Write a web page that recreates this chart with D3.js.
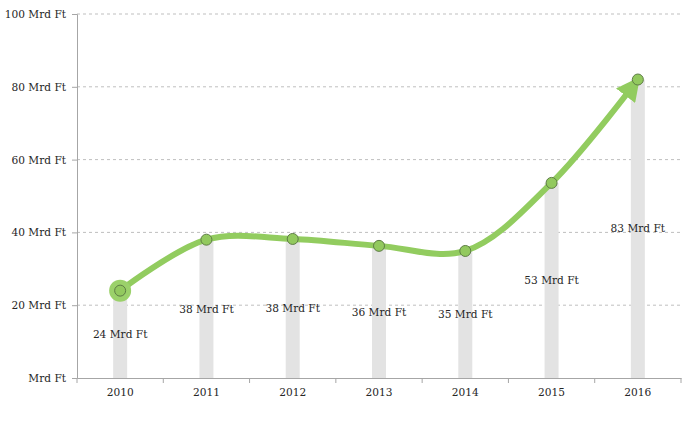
<!DOCTYPE html>
<html><head><meta charset="utf-8">
<script src="https://cdn.jsdelivr.net/npm/d3@7"></script>
<style>body{margin:0;background:#fff;}</style>
</head><body>
<svg id="c" width="691" height="436"></svg>
<script>
const years = ["2010","2011","2012","2013","2014","2015","2016"];
const values = [24, 38, 38.2, 36.3, 34.9, 53.6, 82];
const valueLabels = ["24 Mrd Ft","38 Mrd Ft","38 Mrd Ft","36 Mrd Ft","35 Mrd Ft","53 Mrd Ft","83 Mrd Ft"];
const yTicks = [0, 20, 40, 60, 80, 100];
const yTickLabels = ["Mrd Ft","20 Mrd Ft","40 Mrd Ft","60 Mrd Ft","80 Mrd Ft","100 Mrd Ft"];

const FONT = "DejaVu Serif";
const FS = 10.6;
const svg = d3.select("#c");
const L = 77, R = 681, T = 14, B = 378;
const x = d3.scaleBand().domain(years).range([L, R]);
const y = d3.scaleLinear().domain([0, 100]).range([B, T]);
const cx = d => x(d) + x.bandwidth() / 2;

// gridlines
svg.append("g").selectAll("line").data(yTicks.filter(v => v > 0)).join("line")
  .attr("x1", L).attr("x2", R).attr("y1", d => y(d)).attr("y2", d => y(d))
  .attr("stroke", "#bfbfbf").attr("stroke-dasharray", "3,3").attr("stroke-width", 1);

// bars
svg.append("g").selectAll("rect").data(years).join("rect")
  .attr("x", d => cx(d) - 7).attr("width", 14)
  .attr("y", (d, i) => y(values[i])).attr("height", (d, i) => B - y(values[i]))
  .attr("fill", "#e3e3e3");

// y axis
const yAxis = d3.axisLeft(y).tickValues(yTicks).tickSize(5).tickPadding(6)
  .tickFormat((d, i) => yTickLabels[i]);
const gy = svg.append("g").attr("transform", `translate(${L},0)`).call(yAxis)
  .attr("font-family", FONT).attr("font-size", FS);
gy.select(".domain").attr("stroke", "#a6a6a6");
gy.selectAll(".tick line").attr("stroke", "#a6a6a6");
gy.selectAll("text").attr("fill", "#262626");

// x axis
const xAxis = d3.axisBottom(x).tickSize(0).tickPadding(10);
const gx = svg.append("g").attr("transform", `translate(0,${B})`).call(xAxis)
  .attr("font-family", FONT).attr("font-size", FS);
gx.select(".domain").attr("stroke", "#a6a6a6");
gx.selectAll("text").attr("fill", "#262626");
// boundary ticks
svg.append("g").selectAll("line").data(d3.range(years.length + 1)).join("line")
  .attr("x1", i => L + i * x.step()).attr("x2", i => L + i * x.step())
  .attr("y1", B).attr("y2", B + 5).attr("stroke", "#a6a6a6");

// value labels at bar midpoints
svg.append("g").attr("font-family", FONT).attr("font-size", FS)
  .selectAll("text").data(years).join("text")
  .attr("x", d => cx(d)).attr("y", (d, i) => (y(values[i]) + B) / 2)
  .attr("text-anchor", "middle").attr("dy", "0.35em")
  .attr("fill", "#262626")
  .text((d, i) => valueLabels[i]);

// arrow marker
const defs = svg.append("defs");
defs.append("marker").attr("id", "arr").attr("viewBox", "0 0 10 10")
  .attr("refX", 8.5).attr("refY", 5).attr("markerWidth", 4).attr("markerHeight", 4)
  .attr("orient", "auto").attr("markerUnits", "strokeWidth")
  .append("path").attr("d", "M0,0 L10,5 L0,10 z").attr("fill", "#92cc5f");

const pts = years.map((d, i) => [cx(d), y(values[i])]);
const line = d3.line().curve(d3.curveCatmullRom.alpha(0.5));
svg.append("path").attr("d", line(pts))
  .attr("fill", "none").attr("stroke", "#92cc5f").attr("stroke-width", 6)
  .attr("stroke-linecap", "round").attr("marker-end", "url(#arr)");

// start halo
svg.append("circle").attr("cx", pts[0][0]).attr("cy", pts[0][1]).attr("r", 11)
  .attr("fill", "#9bd16a");

// markers
svg.append("g").selectAll("circle").data(pts).join("circle")
  .attr("cx", d => d[0]).attr("cy", d => d[1]).attr("r", 5.5)
  .attr("fill", "#92c95e").attr("stroke", "#5e7d45").attr("stroke-width", 1);
</script>
</body></html>
